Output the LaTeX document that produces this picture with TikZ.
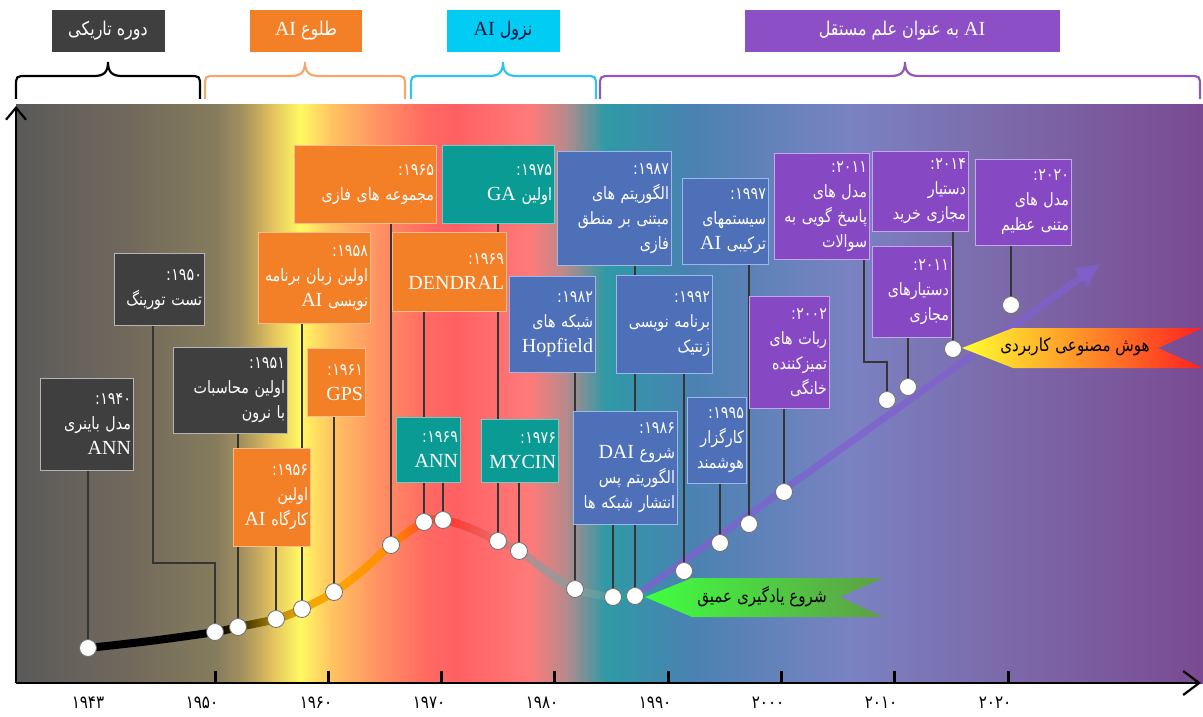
\documentclass[tikz,border=0pt]{standalone}
\usepackage{fontspec}
\setmainfont{Liberation Serif}
\newfontfamily\fafont[Script=Arabic, FakeStretch=0.84]{DejaVu Sans}
\TeXXeTstate=1
\usetikzlibrary{arrows.meta}

\newcommand\en[1]{{\rmfamily\fontsize{20}{25}\selectfont #1}}

\definecolor{darkbox}{HTML}{3F3F3F}
\definecolor{darkline}{HTML}{B4B4B4}
\definecolor{orangebox}{HTML}{F37F26}
\definecolor{orangeline}{HTML}{F9BC8E}
\definecolor{tealbox}{HTML}{0B9B95}
\definecolor{tealline}{HTML}{6FCFC8}
\definecolor{bluebox}{HTML}{4D70B8}
\definecolor{blueline}{HTML}{9DB8E8}
\definecolor{purplebox}{HTML}{8748C3}
\definecolor{purpleline}{HTML}{C8A6EE}
\definecolor{topcyan}{HTML}{00CCF4}
\definecolor{toppurple}{HTML}{8C4FC5}
\definecolor{bracepeach}{HTML}{F5A86E}
\definecolor{bracecyan}{HTML}{2EC4F0}
\definecolor{bracepurple}{HTML}{9356BC}
\definecolor{stemcol}{HTML}{353535}
\definecolor{dotline}{HTML}{707070}
\definecolor{aiarrow}{HTML}{8060D0}
% background stops
\definecolor{bg0}{HTML}{5A5A5A}
\definecolor{bg1}{HTML}{72695C}
\definecolor{bg2}{HTML}{857C5D}
\definecolor{bg3}{HTML}{A08E5E}
\definecolor{bg4}{HTML}{E4C25E}
\definecolor{bg5}{HTML}{FFFA62}
\definecolor{bg6}{HTML}{FFC562}
\definecolor{bg7}{HTML}{FF9463}
\definecolor{bg8}{HTML}{FF6A62}
\definecolor{bg9}{HTML}{FF6062}
\definecolor{bg10}{HTML}{FF7A7A}
\definecolor{bg11}{HTML}{B88A8A}
\definecolor{bg12}{HTML}{2E9AA6}
\definecolor{bg13}{HTML}{4A82B2}
\definecolor{bg14}{HTML}{7A82C2}
\definecolor{bg15}{HTML}{7C6AAA}
\definecolor{bg16}{HTML}{7A4A92}
% curve stops
\definecolor{c1}{HTML}{5A4500}
\definecolor{c2}{HTML}{B08800}
\definecolor{c3}{HTML}{F0A800}
\definecolor{c4}{HTML}{FFA400}
\definecolor{c5}{HTML}{FF8A00}
\definecolor{c6}{HTML}{FF5020}
\definecolor{c7}{HTML}{FF3A30}
\definecolor{c8}{HTML}{E87070}
\definecolor{c9}{HTML}{B09090}
\definecolor{c10}{HTML}{8E9C9C}
\definecolor{c11}{HTML}{28A0A2}

\pgfdeclarelayer{back}
\pgfdeclarelayer{mid}
\pgfsetlayers{back,mid,main}

\begin{document}
\begin{tikzpicture}[x=1pt, y=-1pt,
  ebox/.style={draw, line width=1pt, anchor=north west, inner xsep=2.5pt, inner ysep=3pt,
    align=right, text=white, font=\fafont\fontsize{17}{25}\selectfont},
  gbox/.style={ebox, fill=darkbox, draw=darkline},
  obox/.style={ebox, fill=orangebox, draw=orangeline},
  tbox/.style={ebox, fill=tealbox, draw=tealline},
  bbox/.style={ebox, fill=bluebox, draw=blueline},
  pbox/.style={ebox, fill=purplebox, draw=purpleline},
  period/.style={minimum width=#1, minimum height=42pt, inner sep=0pt, text=white,
    font=\fafont\fontsize{19}{22}\selectfont},
  dot/.style={circle, fill=white, draw=dotline, line width=0.8pt, minimum size=17pt, inner sep=0pt},
  stem/.style={draw=stemcol, line width=2.4pt},
  ribbontext/.style={text=black, font=\fafont\fontsize{18}{20}\selectfont}]
\useasboundingbox (0,0) rectangle (1203,717);

% points on the curve
\coordinate (p40) at (88,648);
\coordinate (p50) at (215,632);
\coordinate (p51) at (238,627);
\coordinate (p56) at (276,619);
\coordinate (p58) at (302,609);
\coordinate (p61) at (334,592);
\coordinate (p65) at (391,545);
\coordinate (p69a) at (424,522);
\coordinate (p69b) at (443,520);
\coordinate (p75) at (498,541);
\coordinate (p76) at (519,551);
\coordinate (p82) at (575,589);
\coordinate (p86) at (613,597);
\coordinate (p87) at (635,596);
\coordinate (p92) at (684,571);
\coordinate (p95) at (720,543);
\coordinate (p97) at (749,524);
\coordinate (p02) at (784,492);
\coordinate (p11a) at (887,400);
\coordinate (p11b) at (908,387);
\coordinate (p14) at (953,349);
\coordinate (p20) at (1011,305);
\coordinate (tipAI) at (1100,264);
\coordinate (k50) at (153,563);
\coordinate (k11) at (864,362);
\coordinate (o) at (16,683);

\def\aicurve{plot[smooth, tension=0.55] coordinates {(p40) (150,641) (p50) (p51) (p56) (p58) (p61) (362,571) (p65) (p69a) (p69b) (470,528) (p75) (p76) (545,570) (p82) (p86) (p87) (648,595)}}

\begin{pgfonlayer}{back}
  % background
  \foreach \xa/\xb/\ca/\cb in {16/130/bg0/bg1, 130/215/bg1/bg2, 215/240/bg2/bg3, 240/272/bg3/bg4,
      272/300/bg4/bg5, 300/330/bg5/bg6, 330/375/bg6/bg7, 375/425/bg7/bg8, 425/455/bg8/bg9,
      455/530/bg9/bg10, 530/565/bg10/bg11, 565/605/bg11/bg12, 605/690/bg12/bg13,
      690/850/bg13/bg14, 850/1000/bg14/bg15, 1000/1203/bg15/bg16}
    \shade[left color=\ca, right color=\cb] (\xa,105) rectangle (\xb+0.6,683);

  % curve
  \foreach \xa/\xb/\ca/\cb in {70/215/black/black, 215/250/black/c1, 250/276/c1/c2, 276/302/c2/c3,
      302/334/c3/c4, 334/391/c4/c5, 391/424/c5/c6, 424/450/c6/c7, 450/500/c7/c8,
      500/530/c8/c9, 530/575/c9/c10, 575/620/c10/c11, 620/660/c11/c11}
    \foreach \k in {0,...,9} {
      \pgfmathtruncatemacro\mix{100-10*\k}
      \pgfmathsetmacro\sl{\xa+\k*(\xb-\xa)/10-0.4}
      \pgfmathsetmacro\sr{\xa+(\k+1)*(\xb-\xa)/10+0.4}
      \begin{scope}
        \clip (\sl,400) rectangle (\sr,680);
        \draw[line width=8pt, color=\ca!\mix!\cb] \aicurve;
      \end{scope}
    }

  % rising line
  \draw[line width=7pt, draw=aiarrow, draw opacity=0.75, fill=aiarrow, fill opacity=0.75,
    -{Triangle[length=24pt,width=22pt]}] (p87) -- (tipAI);

  % ribbons
  \shade[left color=green!75!white, right color={rgb,255:red,94;green,158;blue,69}]
    (645,597) -- (692,578) -- (883,578) -- (840,597) -- (883,617) -- (692,617) -- cycle;
  \shade[left color={rgb,255:red,255;green,255;blue,48}, middle color={rgb,255:red,255;green,150;blue,128},
    right color={rgb,255:red,255;green,32;blue,32}]
    (962,348) -- (1013,328) -- (1203,328) -- (1158,348) -- (1203,368) -- (1013,368) -- cycle;
\end{pgfonlayer}

% braces
\foreach \xa/\xm/\xb/\c in {16/108/200/black, 205/305/405/bracepeach, 411/503/596/bracecyan, 600/905/1200/bracepurple}
  \draw[\c, line width=2.2pt] (\xa,99) -- (\xa,87) .. controls (\xa,76) .. (\xa+11,76) -- (\xm-14,76)
    .. controls (\xm-4,76) and (\xm,72) .. (\xm,62) .. controls (\xm,72) and (\xm+4,76) .. (\xm+14,76)
    -- (\xb-11,76) .. controls (\xb,76) .. (\xb,87) -- (\xb,99);

\node[period=113pt, fill=darkbox] (t1) at (108,31) {\beginR دوره تاریکی\endR};
\node[period=112pt, fill=orangebox] (t2) at (306,31) {\beginR طلوع \en{AI}\endR};
\node[period=113pt, fill=topcyan, text={rgb,255:red,20;green,20;blue,60}] (t3) at (503,31) {\beginR نزول \en{AI}\endR};
\node[period=315pt, fill=toppurple] (t4) at (902,31) {\beginR \en{AI} به عنوان علم مستقل\endR};

% axes
\draw[line width=2.2pt, -{Straight Barb[length=12pt,width=20pt]}] (o) -- (16,106);
\draw[line width=2.2pt, -{Straight Barb[length=16pt,width=24pt]}] (o) -- (1201,683);
\foreach \i in {0,...,7}
  \draw[line width=3pt] (215+113.3*\i,683) -- (215+113.3*\i,671);
\foreach \t/\x in {۱۹۴۳/88, ۱۹۵۰/202, ۱۹۶۰/316, ۱۹۷۰/429, ۱۹۸۰/542, ۱۹۹۰/655, ۲۰۰۰/768, ۲۰۱۰/881, ۲۰۲۰/995}
  \node[font=\fafont\fontsize{18}{20}\selectfont] (y\x) at (\x,703) {\t};

% events
\node[gbox, text width=88pt, minimum height=92pt] (b40) at (40,378) {:\kern0.5pt۱۹۴۰\\\beginR مدل باینری\endR\\\en{ANN}};
\node[gbox, text width=85pt, minimum height=72pt] (b50) at (114,253) {:\kern0.5pt۱۹۵۰\\\beginR تست تورینگ\endR};
\node[gbox, text width=109pt, minimum height=86pt] (b51) at (173,347) {:\kern0.5pt۱۹۵۱\\\beginR اولین محاسبات\endR\\\beginR با نرون\endR};
\node[obox, text width=72pt, minimum height=98pt] (b56) at (233,448) {:\kern0.5pt۱۹۵۶\\\beginR اولین\endR\\\beginR کارگاه \en{AI}\endR};
\node[obox, text width=107pt, minimum height=91pt] (b58) at (258,232) {:\kern0.5pt۱۹۵۸\\\beginR اولین زبان برنامه\endR\\\beginR نویسی \en{AI}\endR};
\node[obox, text width=53pt, minimum height=68pt] (b61) at (307,348) {:\kern0.5pt۱۹۶۱\\\en{GPS}};
\node[obox, text width=137pt, minimum height=78pt] (b65) at (294,145) {:\kern0.5pt۱۹۶۵\\\beginR مجموعه های فازی\endR};
\node[obox, text width=109pt, minimum height=79pt] (b69a) at (392,232) {:\kern0.5pt۱۹۶۹\\\en{DENDRAL}};
\node[tbox, text width=107pt, minimum height=78pt] (b75) at (442,145) {:\kern0.5pt۱۹۷۵\\\beginR اولین \en{GA}\endR};
\node[tbox, text width=59pt, minimum height=65pt] (b69b) at (396,417) {:\kern0.5pt۱۹۶۹\\\en{ANN}};
\node[tbox, text width=72pt, minimum height=63pt] (b76) at (481,419) {:\kern0.5pt۱۹۷۶\\\en{MYCIN}};
\node[bbox, text width=81pt, minimum height=96pt] (b82) at (509,276) {:\kern0.5pt۱۹۸۲\\\beginR شبکه های\endR\\\en{Hopfield}};
\node[bbox, text width=109pt, minimum height=114pt] (b87) at (557,151) {:\kern0.5pt۱۹۸۷\\\beginR الگوریتم های\endR\\\beginR مبتنی بر منطق\endR\\\beginR فازی\endR};
\node[bbox, text width=91pt, minimum height=98pt] (b92) at (616,275) {:\kern0.5pt۱۹۹۲\\\beginR برنامه نویسی\endR\\\beginR ژنتیک\endR};
\node[bbox, text width=99pt, minimum height=113pt] (b86) at (573,411) {:\kern0.5pt۱۹۸۶\\\beginR شروع \en{DAI}\endR\\\beginR الگوریتم پس\endR\\\beginR انتشار شبکه ها\endR};
\node[bbox, text width=54pt, minimum height=86pt] (b95) at (687,397) {:\kern0.5pt۱۹۹۵\\\beginR کارگزار\endR\\\beginR هوشمند\endR};
\node[bbox, text width=81pt, minimum height=86pt] (b97) at (682,178) {:\kern0.5pt۱۹۹۷\\\beginR سیستمهای\endR\\\beginR ترکیبی \en{AI}\endR};
\node[pbox, text width=75pt, minimum height=112pt] (b02) at (749,296) {:\kern0.5pt۲۰۰۲\\\beginR ربات های\endR\\\beginR تمیزکننده\endR\\\beginR خانگی\endR};
\node[pbox, text width=90pt, minimum height=106pt] (b11a) at (774,153) {:\kern0.5pt۲۰۱۱\\\beginR مدل های\endR\\\beginR پاسخ گویی به\endR\\\beginR سوالات\endR};
\node[pbox, text width=91pt, minimum height=80pt] (b14) at (872,151) {:\kern0.5pt۲۰۱۴\\\beginR دستیار\endR\\\beginR مجازی خرید\endR};
\node[pbox, text width=74pt, minimum height=91pt] (b11b) at (872,246) {:\kern0.5pt۲۰۱۱\\\beginR دستیارهای\endR\\\beginR مجازی\endR};
\node[pbox, text width=91pt, minimum height=86pt] (b20) at (975,159) {:\kern0.5pt۲۰۲۰\\\beginR مدل های\endR\\\beginR متنی عظیم\endR};

% stems
\begin{pgfonlayer}{mid}
  \foreach \p in {40,51,56,58,61,65,69a,69b,75,76,82,86,87,92,95,97,02,14,11b,20}
    \draw[stem] (b\p.south -| p\p) -- (p\p);
  \draw[stem] (b50.south -| k50) -- (k50) -| (p50);
  \draw[stem] (b11a.south -| k11) -- (k11) -| (p11a);
\end{pgfonlayer}

\foreach \p in {40,50,51,56,58,61,65,69a,69b,75,76,82,86,87,92,95,97,02,11a,11b,14,20}
  \node[dot] (d\p) at (p\p) {};

\node[ribbontext] (dl) at (762,597) {\beginR شروع یادگیری عمیق\endR};
\node[ribbontext] (aa) at (1075,347) {\beginR هوش مصنوعی کاربردی\endR};
\end{tikzpicture}
\end{document}
